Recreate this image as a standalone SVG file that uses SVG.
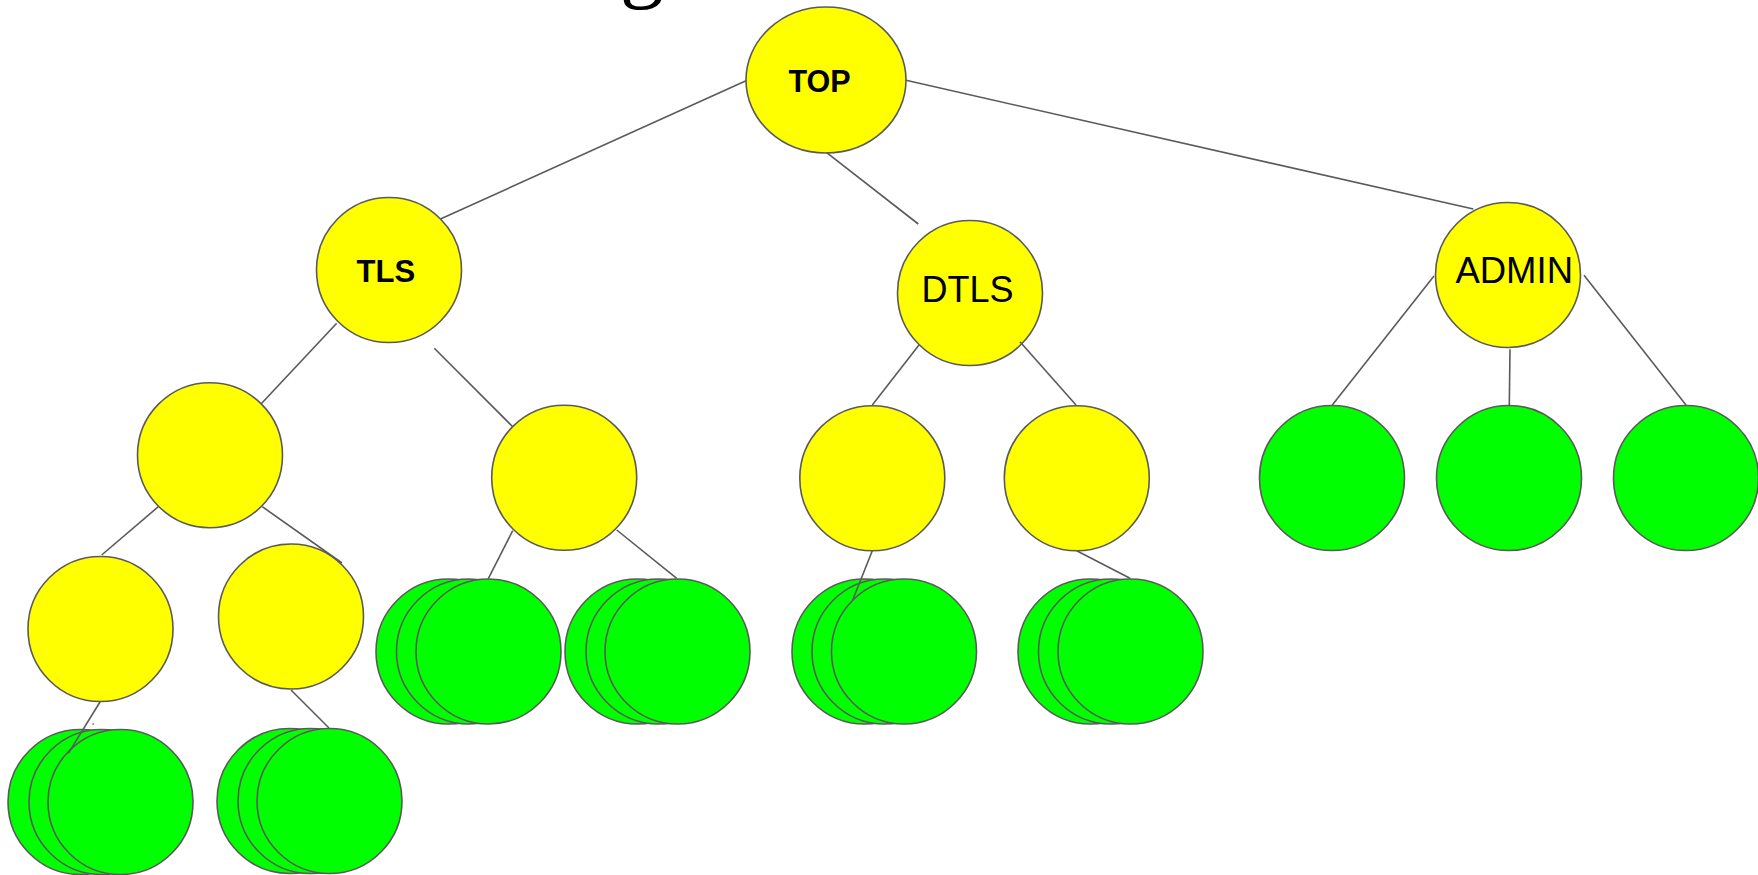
<svg xmlns="http://www.w3.org/2000/svg" width="1758" height="875" viewBox="0 0 1758 875">
  <style>
    .n { stroke: #5a5a5a; stroke-width: 1.6; }
    .y { fill: #ffff00; }
    .g { fill: #00ff00; }
    .edge { stroke: #5a5a5a; stroke-width: 1.6; fill: none; }
    .lbl { font-family: "Liberation Sans", Arial, sans-serif; fill: #000; text-anchor: middle; }
    .b { font-weight: bold; }
  </style>
  <rect width="1758" height="875" fill="#ffffff"/>

  <!-- heading fragment above the top edge -->
  <text x="620" y="-9" font-family="Liberation Serif, serif" font-size="88" fill="#000">g</text>

  <!-- root -->
  <g id="node-top">
    <ellipse class="n y" cx="826" cy="80" rx="80" ry="73"/>
    <text class="lbl b" x="819.5" y="91.7" font-size="30.5">TOP</text>
  </g>

  <!-- level 1 -->
  <g id="node-tls">
    <circle class="n y" cx="389" cy="270" r="72.5"/>
    <text class="lbl b" x="385.8" y="282.3" font-size="31">TLS</text>
  </g>
  <g id="node-dtls">
    <circle class="n y" cx="970" cy="293" r="72.5"/>
    <text class="lbl" x="967.5" y="301.7" font-size="36">DTLS</text>
  </g>
  <g id="node-admin">
    <circle class="n y" cx="1508" cy="275" r="72.5"/>
    <text class="lbl" x="1514.2" y="283.3" font-size="36.5">ADMIN</text>
  </g>

  <!-- level 2 -->
  <g id="node-tls-a"><circle class="n y" cx="210" cy="455.2" r="72.5"/></g>
  <g id="node-tls-b"><circle class="n y" cx="564.2" cy="477.7" r="72.5"/></g>
  <g id="node-dtls-a"><circle class="n y" cx="872.3" cy="478.2" r="72.5"/></g>
  <g id="node-dtls-b"><circle class="n y" cx="1076.8" cy="478.2" r="72.5"/></g>
  <g id="node-admin-a"><circle class="n g" cx="1332" cy="478" r="72.5"/></g>
  <g id="node-admin-b"><circle class="n g" cx="1509" cy="478" r="72.5"/></g>
  <g id="node-admin-c"><circle class="n g" cx="1686" cy="478" r="72.5"/></g>

  <!-- level 3 -->
  <g id="node-tls-a1"><circle class="n y" cx="100.5" cy="629" r="72.5"/></g>
  <g id="node-tls-a2"><circle class="n y" cx="291" cy="616.5" r="72.5"/></g>

  <!-- stacked leaf groups -->
  <g id="stack-tls-b1">
    <circle class="n g" cx="448.5" cy="651.5" r="72.5"/>
    <circle class="n g" cx="469" cy="651.5" r="72.5"/>
    <circle class="n g" cx="488.5" cy="651.5" r="72.5"/>
  </g>
  <g id="stack-tls-b2">
    <circle class="n g" cx="637.5" cy="651.5" r="72.5"/>
    <circle class="n g" cx="658.5" cy="651.5" r="72.5"/>
    <circle class="n g" cx="677.5" cy="651.5" r="72.5"/>
  </g>
  <g id="stack-dtls-a">
    <circle class="n g" cx="864.5" cy="651.5" r="72.5"/>
    <circle class="n g" cx="884.5" cy="651.5" r="72.5"/>
    <circle class="n g" cx="904" cy="651.5" r="72.5"/>
  </g>
  <g id="stack-dtls-b">
    <circle class="n g" cx="1090.5" cy="651.5" r="72.5"/>
    <circle class="n g" cx="1111" cy="651.5" r="72.5"/>
    <circle class="n g" cx="1130.5" cy="651.5" r="72.5"/>
  </g>
  <g id="stack-tls-a1">
    <circle class="n g" cx="80.5" cy="802" r="72.5"/>
    <circle class="n g" cx="101.5" cy="802" r="72.5"/>
    <circle class="n g" cx="120.5" cy="802" r="72.5"/>
  </g>
  <g id="stack-tls-a2">
    <circle class="n g" cx="289.5" cy="801" r="72.5"/>
    <circle class="n g" cx="310.5" cy="801" r="72.5"/>
    <circle class="n g" cx="329.5" cy="801" r="72.5"/>
  </g>

  <!-- connectors -->
  <g id="connectors" class="edge">
    <line x1="746" y1="80.7" x2="441" y2="218.8"/>
    <line x1="826.7" y1="152.7" x2="918.3" y2="224"/>
    <line x1="906" y1="80.3" x2="1473.3" y2="209"/>

    <line x1="336.7" y1="323.3" x2="261.7" y2="403.3"/>
    <line x1="434.3" y1="348.3" x2="512.7" y2="426.7"/>

    <line x1="919" y1="345" x2="872.3" y2="405"/>
    <line x1="1020" y1="341.7" x2="1076" y2="405"/>

    <line x1="1434" y1="276" x2="1332.3" y2="405"/>
    <line x1="1510" y1="349.3" x2="1509.3" y2="405"/>
    <line x1="1584" y1="275.3" x2="1686" y2="405"/>

    <line x1="158.3" y1="506.7" x2="101.7" y2="555"/>
    <line x1="262.3" y1="506.7" x2="342" y2="563"/>

    <line x1="512.7" y1="530.7" x2="488.3" y2="578.7"/>
    <line x1="616.7" y1="530" x2="676.7" y2="578.3"/>

    <line x1="872.3" y1="550.7" x2="852.7" y2="600"/>
    <line x1="1076.7" y1="550.7" x2="1130" y2="578.3"/>

    <line x1="100" y1="702" x2="68.3" y2="753.3"/>
    <line x1="291" y1="690" x2="329" y2="728"/>
    <line x1="92.5" y1="724" x2="93.8" y2="724"/>
  </g>
</svg>
